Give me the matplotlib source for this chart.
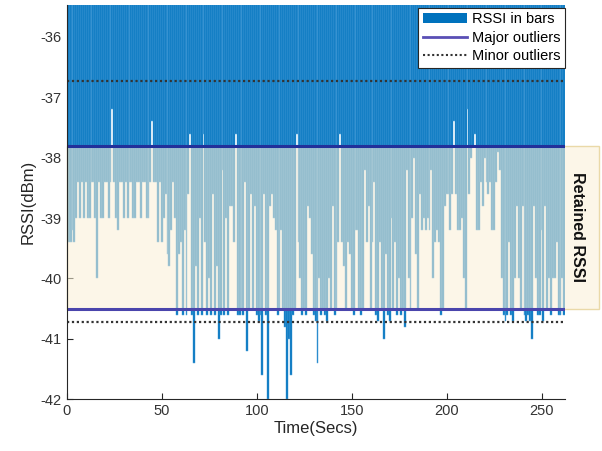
import matplotlib
matplotlib.use("Agg")
import matplotlib.pyplot as plt
import matplotlib.patches as mpatches
from matplotlib.lines import Line2D
import numpy as np

plt.rcParams['font.family'] = ['Liberation Sans', 'DejaVu Sans']
plt.rcParams['axes.unicode_minus'] = False

# RSSI per second (dBm), seconds 1..262
rssi = [
    -39.4, -39.4, -39.2, -39.4, -39.0, -38.4, -39.0, -38.4, -39.0, -38.4,
    -39.0, -39.0, -38.4, -38.4, -39.0, -40.0, -38.4, -39.0, -39.0, -38.4,
    -38.4, -39.0, -38.4, -37.2, -38.4, -39.0, -39.2, -38.4, -38.4, -39.0,
    -38.4, -39.0, -38.4, -38.4, -39.0, -39.0, -38.4, -38.4, -39.0, -38.4,
    -38.4, -39.0, -39.0, -38.4, -37.4, -38.4, -38.4, -39.4, -38.4, -39.4,
    -39.0, -38.6, -39.6, -39.8, -39.2, -38.4, -39.0, -40.6, -39.6, -39.4,
    -40.6, -39.2, -40.6, -38.6, -37.6, -40.6, -41.4, -39.8, -40.6, -39.0,
    -40.6, -37.6, -39.4, -40.6, -40.0, -40.6, -38.6, -40.6, -39.8, -41.0,
    -40.6, -38.2, -40.6, -39.0, -40.6, -38.8, -38.8, -39.4, -37.6, -40.6,
    -40.6, -40.5, -40.6, -38.4, -41.2, -40.5, -38.6, -40.5, -38.8, -40.6,
    -40.7, -40.6, -41.6, -38.6, -40.6, -42.0, -38.8, -38.6, -39.0, -39.2,
    -40.6, -40.5, -39.2, -40.5, -40.8, -42.0, -41.0, -41.6, -40.6, -40.5,
    -37.6, -39.4, -40.0, -40.6, -40.5, -40.6, -38.8, -39.0, -39.6, -40.6,
    -40.7, -41.4, -40.0, -40.6, -40.5, -40.6, -40.7, -40.0, -40.5, -38.8,
    -40.6, -40.5, -39.4, -37.6, -39.4, -39.8, -40.5, -39.4, -39.6, -40.5,
    -40.6, -39.2, -39.2, -40.5, -40.6, -40.5, -38.2, -39.4, -38.8, -40.5,
    -39.4, -38.4, -40.6, -40.7, -39.4, -40.5, -41.0, -39.6, -40.6, -40.7,
    -39.0, -40.5, -39.4, -40.6, -40.0, -40.6, -40.5, -40.8, -38.2, -40.0,
    -40.5, -39.0, -38.0, -39.6, -40.5, -38.6, -39.2, -39.0, -39.2, -39.0,
    -39.2, -38.2, -40.0, -39.4, -39.2, -39.4, -40.6, -40.5, -38.8, -38.6,
    -38.6, -39.2, -38.6, -37.4, -38.6, -39.2, -39.2, -39.0, -40.0, -40.5,
    -37.2, -38.6, -38.0, -37.8, -37.6, -39.2, -39.2, -38.4, -38.8, -38.0,
    -38.4, -38.6, -38.4, -39.2, -39.2, -38.4, -37.9, -38.2, -40.0, -40.6,
    -40.7, -40.6, -39.4, -40.6, -40.7, -40.0, -38.8, -40.0, -40.5, -38.8,
    -40.6, -40.7, -40.6, -40.7, -41.0, -38.8, -40.0, -40.6, -40.6, -39.2,
    -40.7, -38.8, -40.5, -40.0, -40.6, -40.0, -40.0, -39.4, -40.6, -40.6,
    -40.0, -40.6,
]
seconds = list(range(1, len(rssi) + 1))

major_outliers = [-37.8, -40.5]
minor_outliers = [-36.73, -40.73]

xticks = [0, 50, 100, 150, 200, 250]
yticks = [-42, -41, -40, -39, -38, -37, -36]

fig = plt.figure(figsize=(6.02, 4.51), dpi=100)
ax = fig.add_axes([0.111, 0.115, 0.828, 0.874])

blue = '#0072BD'
ax.bar(seconds, rssi, width=1.0, color=blue, edgecolor='#5AA8DE', linewidth=0.35, zorder=2)

ax.set_xlim(0, 262.5)
ax.set_ylim(-42, -35.47)

# retained region box (extends beyond the axes on the right)
x_right = 280.5
rect = mpatches.Rectangle((0, major_outliers[1]), x_right, major_outliers[0] - major_outliers[1],
                          facecolor='#FAF0D6', alpha=0.56, edgecolor='none', zorder=3, clip_on=False)
ax.add_patch(rect)
rect_edge = mpatches.Rectangle((0, major_outliers[1]), x_right, major_outliers[0] - major_outliers[1],
                               facecolor='none', edgecolor='#EAD9A8', linewidth=1.0, zorder=3, clip_on=False)
ax.add_patch(rect_edge)

ax.text(268.8, (major_outliers[0] + major_outliers[1]) / 2, 'Retained RSSI', rotation=-90,
        ha='center', va='center', fontsize=11.5, fontweight='bold', color='#111111', zorder=5)

major_colors = ['#22309A', '#4A45AC']
for m, c in zip(major_outliers, major_colors):
    ax.axhline(m, color=c, lw=2.2, zorder=4)
for m in minor_outliers:
    ax.axhline(m, color='#333333', lw=1.6, ls=(0, (1, 1.2)), zorder=4)

ax.set_xticks(xticks)
ax.set_yticks(yticks)
ax.tick_params(direction='in', length=4, color='#262626', labelcolor='#333333', labelsize=10.5)
for side in ['top', 'right']:
    ax.spines[side].set_visible(False)
for side in ['left', 'bottom']:
    ax.spines[side].set_color('#262626')
    ax.spines[side].set_linewidth(0.8)
    ax.spines[side].set_zorder(6)

ax.set_xlabel('Time(Secs)', fontsize=12, color='#262626', labelpad=2)
ax.set_ylabel('RSSI(dBm)', fontsize=12, color='#262626', labelpad=4)

handles = [
    mpatches.Patch(facecolor=blue, edgecolor='none'),
    Line2D([0], [0], color='#5A4FB5', lw=2),
    Line2D([0], [0], color='#333333', lw=1.5, ls=(0, (1, 1.2))),
]
labels = ['RSSI in bars', 'Major outliers', 'Minor outliers']
leg = ax.legend(handles, labels, loc='upper right', bbox_to_anchor=(1.0, 0.992),
                fontsize=10.5, frameon=True, fancybox=False, framealpha=1,
                edgecolor='#262626', borderpad=0.3, labelspacing=0.3,
                handlelength=3.0, handletextpad=0.4, borderaxespad=0.0)
leg.get_frame().set_linewidth(0.8)
leg.set_zorder(10)

fig.savefig('out.png', dpi=100)
